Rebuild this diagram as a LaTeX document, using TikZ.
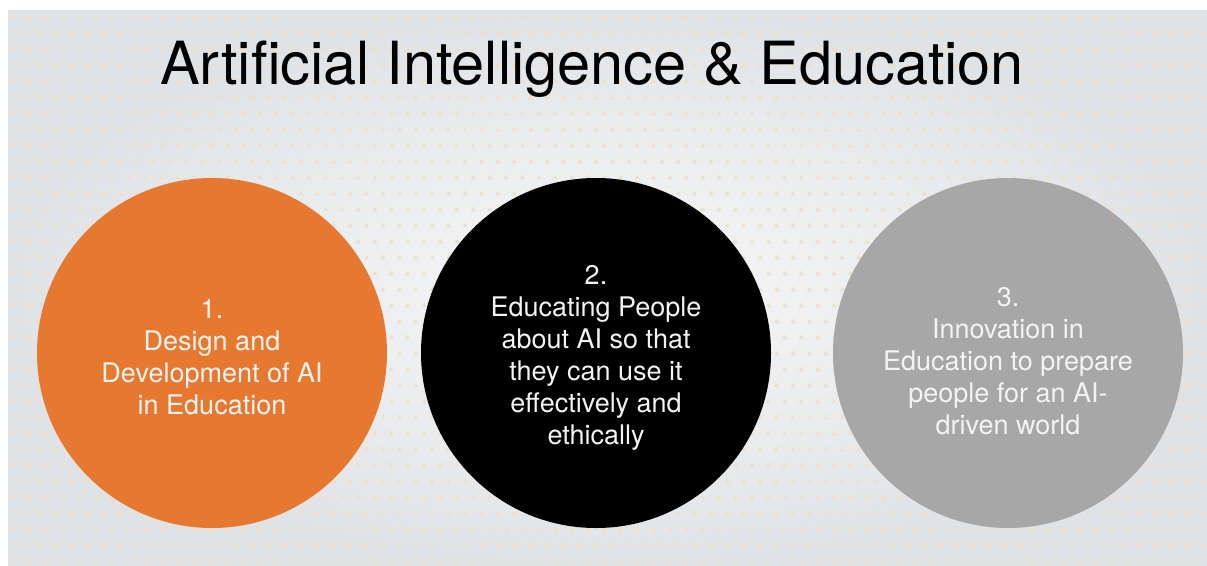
\documentclass[tikz,border=0pt]{standalone}
\usepackage{fontspec}
\setmainfont{TeX Gyre Heros}
\usetikzlibrary{positioning}
\definecolor{aiorange}{RGB}{230,121,47}
\definecolor{aigray}{RGB}{167,167,167}
\definecolor{dotcol}{RGB}{240,222,204}
\definecolor{bgout}{RGB}{224,227,230}
\definecolor{bgin}{RGB}{247,247,247}
\definecolor{txtcol}{RGB}{243,243,243}
\tikzset{topic/.style={circle,minimum size=350pt,inner sep=0pt,align=center,text=txtcol,font=\fontsize{27}{32}\selectfont}}

\begin{document}
\begin{tikzpicture}[x=1pt,y=-1pt]
\useasboundingbox (0,0) rectangle (1207,565);
\fill[white] (0,0) rectangle (1207,565);
\shade[inner color=bgin,outer color=bgout] (8,10) rectangle (1207,565);
\foreach \r in {0,...,34}{
  \foreach \c in {0,...,73}{
    \pgfmathsetmacro\px{14+16.4*\c+mod(\r,2)*8.2}
    \pgfmathsetmacro\py{17+16*\r}
    \fill[dotcol] (\px-2.5,\py+2.2) -- (\px+2.5,\py+2.2) -- (\px,\py-2.5) -- cycle;
  }
}
\node[font=\fontsize{59.5}{72}\selectfont,anchor=base](title)at(592,84){Artificial Intelligence \& Education};
\node[topic,fill=aiorange](design)at(212,353){\rule{0pt}{27pt}1.\\Design and\\Development of AI\\in Education};
\node[topic,fill=black](people)at(596,353){\rule{0pt}{28pt}2.\\Educating People\\about AI so that\\they can use it\\effectively and\\ethically};
\node[topic,fill=aigray](innovation)at(1008,353){\rule{0pt}{36pt}3.\\Innovation in\\Education to prepare\\people for an AI-\\driven world};
\end{tikzpicture}
\end{document}
